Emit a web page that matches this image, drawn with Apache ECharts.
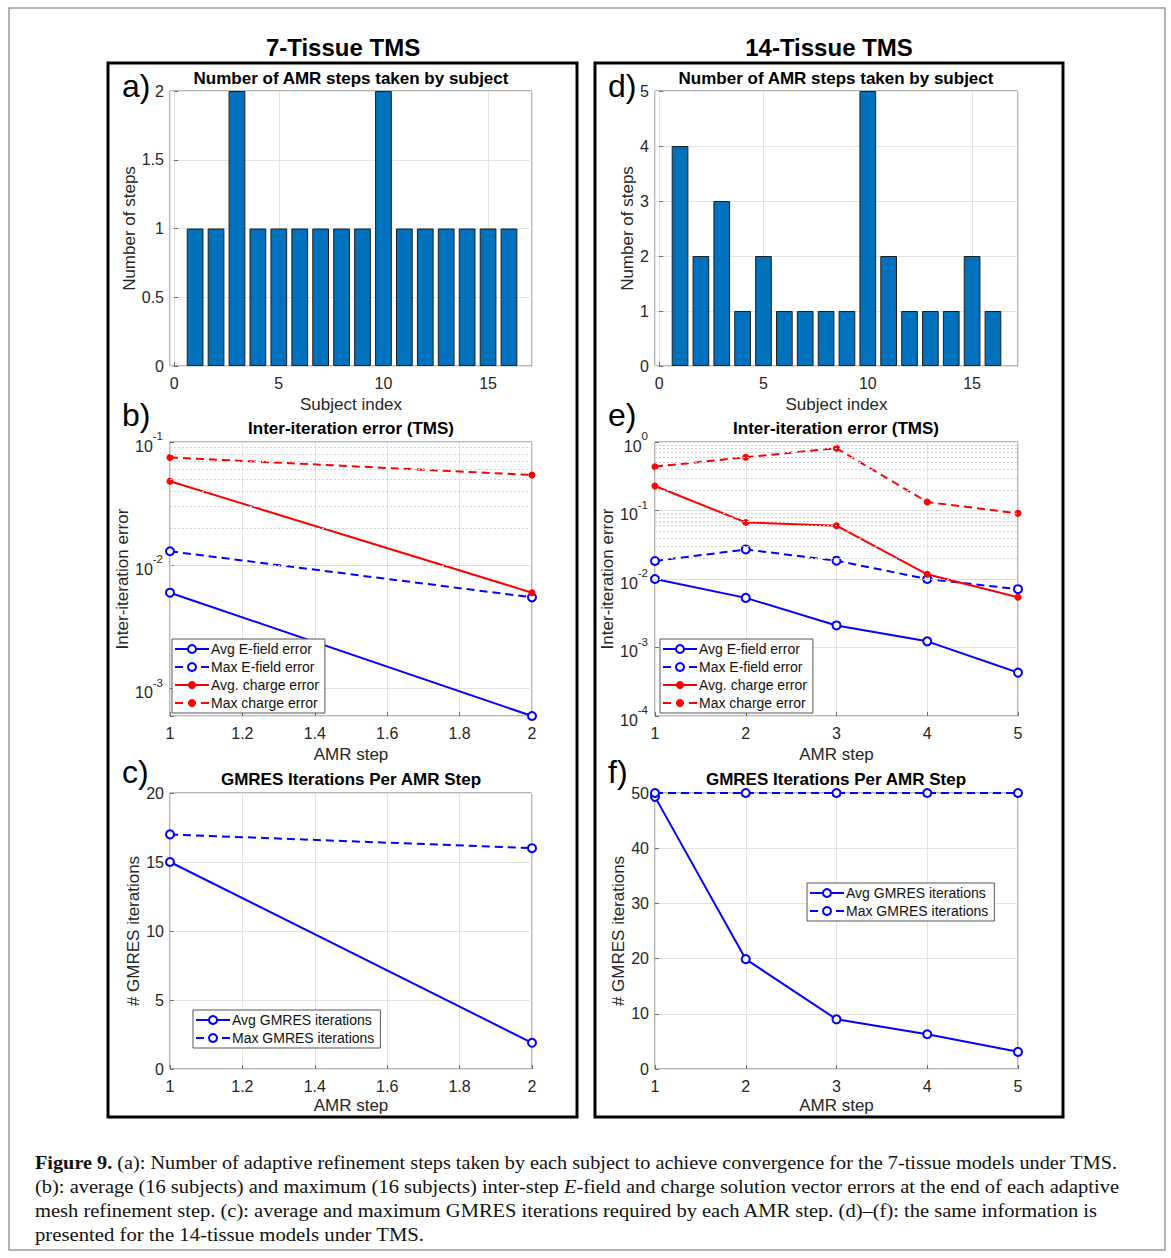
<!DOCTYPE html>
<html><head><meta charset="utf-8">
<script src="https://cdn.jsdelivr.net/npm/echarts@6/dist/echarts.min.js"></script>
<style>
html,body{margin:0;padding:0;background:#fff;}
#chart{position:absolute;left:0;top:0;width:1171px;height:1258px;}
#caption{position:absolute;left:35px;top:1151px;font-family:"Liberation Serif","DejaVu Serif",serif;font-size:19px;line-height:24px;color:#111;}
#caption .ln{white-space:nowrap;height:24px;}
#caption .ln span{display:inline-block;transform-origin:0 50%;}
</style></head><body>
<div id="chart"></div>
<div id="caption">
<div class="ln"><span><b>Figure 9.</b> (a): Number of adaptive refinement steps taken by each subject to achieve convergence for the 7-tissue models under TMS.</span></div>
<div class="ln"><span>(b): average (16 subjects) and maximum (16 subjects) inter-step <i>E</i>-field and charge solution vector errors at the end of each adaptive</span></div>
<div class="ln"><span>mesh refinement step. (c): average and maximum GMRES iterations required by each AMR step. (d)–(f): the same information is</span></div>
<div class="ln"><span>presented for the 14-tissue models under TMS.</span></div>
</div>
<script>
// ---------------- DATA ----------------
const subjects = [1,2,3,4,5,6,7,8,9,10,11,12,13,14,15,16];
const steps7  = [1,1,2,1,1,1,1,1,1,2,1,1,1,1,1,1];
const steps14 = [4,2,3,1,2,1,1,1,1,5,2,1,1,1,2,1];

const amrSteps7  = [1,2];
const amrSteps14 = [1,2,3,4,5];

const avgE7 = [6.0e-3, 6.0e-4];
const maxE7 = [1.3e-2, 5.5e-3];
const avgQ7 = [4.8e-2, 6.0e-3];
const maxQ7 = [7.5e-2, 5.4e-2];

const avgE14 = [1.0e-2, 5.3e-3, 2.1e-3, 1.23e-3, 4.3e-4];
const maxE14 = [1.83e-2, 2.7e-2, 1.85e-2, 1.0e-2, 7.1e-3];
const avgQ14 = [0.228, 6.7e-2, 6.0e-2, 1.17e-2, 5.4e-3];
const maxQ14 = [0.436, 0.60, 0.81, 0.133, 0.091];

const avgG7  = [15, 1.9];
const maxG7  = [17, 16];
const avgG14 = [49.3, 19.9, 9.0, 6.3, 3.1];
const maxG14 = [50, 50, 50, 50, 50];

const legendErr = ['Avg E-field error','Max E-field error','Avg. charge error','Max charge error'];
const legendG = ['Avg GMRES iterations','Max GMRES iterations'];

// ---------------- HELPERS ----------------
const FONT = '"Liberation Sans", Arial, Helvetica, sans-serif';
const TICK = '#262626';
const zip = (xs, ys) => xs.map((x,i)=>[x, ys[i]]);

const gridBox = (left, top, width, height) => ({left, top, width, height, show:true, borderColor:'#6e6e6e', borderWidth:1, backgroundColor:'#fff', outerBoundsMode:'none', containLabel:false});
const L = 170, LW = 362, R = 655, RW = 363;
const rows = [[91,275],[442,274],[793,276]];

function logFmt(v){
  const e = Math.log10(v), r = Math.round(e);
  if (Math.abs(e - r) > 1e-6) return '';
  return '{b|10}{s|' + r + '}';
}
const logRich = {
  b:{fontSize:16, fontFamily:FONT, color:TICK, lineHeight:24, verticalAlign:'bottom'},
  s:{fontSize:11.5, fontFamily:FONT, color:TICK, lineHeight:12, verticalAlign:'top'}
};

function xAx(gridIndex, min, max, opts){
  return Object.assign({
    type:'value', gridIndex, min, max,
    name: opts.name, nameLocation:'middle', nameGap: opts.gap || 30,
    nameTextStyle:{fontSize:17, fontFamily:FONT, color:TICK},
    axisLine:{show:false},
    axisTick:{show:true, inside:true, length:4, lineStyle:{color:'#6e6e6e'}},
    axisLabel:{fontSize:16, fontFamily:FONT, color:TICK, margin:9},
    splitLine:{show:true, lineStyle:{color:'#e4e4e4', width:1}}
  }, opts.extra || {});
}
function yAx(gridIndex, min, max, opts){
  return Object.assign({
    type:'value', gridIndex, min, max,
    name: opts.name, nameLocation:'middle', nameGap: opts.gap, nameRotate:90,
    nameTextStyle:{fontSize:17, fontFamily:FONT, color:TICK},
    axisLine:{show:false},
    axisTick:{show:true, inside:true, length:4, lineStyle:{color:'#6e6e6e'}},
    axisLabel:{fontSize:16, fontFamily:FONT, color:TICK, margin:6},
    splitLine:{show:true, lineStyle:{color:'#e4e4e4', width:1}}
  }, opts.extra || {});
}

function minorLogLines(minExp, maxExp, lo, hi){
  const out = [];
  for (let d = minExp; d < maxExp; d++){
    for (let m = 2; m <= 9; m++){
      const v = m * Math.pow(10, d);
      if (v > lo && v < hi) out.push({yAxis:v});
    }
  }
  return out;
}
function minorSeries(idx, minExp, maxExp, lo, hi){
  return {type:'line', xAxisIndex:idx, yAxisIndex:idx, data:[], silent:true, z:1,
    markLine:{silent:true, symbol:['none','none'], label:{show:false}, animation:false,
      lineStyle:{color:'#d4d4d4', type:[2,2], width:1}, data:minorLogLines(minExp,maxExp,lo,hi)}};
}

const BLUE = '#0000ff', RED = '#ff0000';
function errSeries(idx, xs, aE, mE, aQ, mQ){
  const blueSym = {symbol:'emptyCircle', symbolSize:8, itemStyle:{color:BLUE, borderWidth:2}};
  const redSym  = {symbol:'circle', symbolSize:7, itemStyle:{color:RED}};
  return [
    Object.assign({type:'line', name:legendErr[0], xAxisIndex:idx, yAxisIndex:idx, data:zip(xs,aE), z:3,
      lineStyle:{color:BLUE, width:2}}, blueSym),
    Object.assign({type:'line', name:legendErr[1], xAxisIndex:idx, yAxisIndex:idx, data:zip(xs,mE), z:3,
      lineStyle:{color:BLUE, width:2, type:[8,5]}}, blueSym),
    Object.assign({type:'line', name:legendErr[2], xAxisIndex:idx, yAxisIndex:idx, data:zip(xs,aQ), z:3,
      lineStyle:{color:RED, width:2}}, redSym),
    Object.assign({type:'line', name:legendErr[3], xAxisIndex:idx, yAxisIndex:idx, data:zip(xs,mQ), z:3,
      lineStyle:{color:RED, width:2, type:[8,5]}}, redSym)
  ];
}
function gmSeries(idx, xs, a, m){
  const sym = {symbol:'emptyCircle', symbolSize:8, itemStyle:{color:BLUE, borderWidth:2}};
  return [
    Object.assign({type:'line', name:legendG[0], xAxisIndex:idx, yAxisIndex:idx, data:zip(xs,a), z:3,
      lineStyle:{color:BLUE, width:2}}, sym),
    Object.assign({type:'line', name:legendG[1], xAxisIndex:idx, yAxisIndex:idx, data:zip(xs,m), z:3,
      lineStyle:{color:BLUE, width:2, type:[8,5]}}, sym)
  ];
}
function barSeries(idx, vals){
  return {type:'bar', xAxisIndex:idx, yAxisIndex:idx, data:zip(subjects, vals), barWidth:'80%',
    itemStyle:{color:'#0072BD', borderColor:'#1e1e1e', borderWidth:1}, z:3};
}
function legend(left, top, names){
  return {left, top, orient:'vertical', data:names, itemWidth:34, itemHeight:10, itemGap:4,
    padding:[3,6,3,2], backgroundColor:'#fff', borderColor:'#555', borderWidth:1, selectedMode:false,
    textStyle:{fontSize:14, fontFamily:FONT, color:'#111', padding:[0,0,0,-3]}, z:10};
}
function txt(x, y, s, size, weight, align){
  return {type:'text', x, y, silent:true, z:20,
    style:{text:s, fontSize:size, fontFamily:FONT, fontWeight:weight||'normal', fill:'#000',
      align:align||'center', verticalAlign:'middle'}};
}

const hideEnds = {showMinLabel:false, showMaxLabel:false};

const option = {
  animation:false,
  backgroundColor:'#fff',
  grid:[
    gridBox(L, rows[0][0], LW, rows[0][1]),
    gridBox(L, rows[1][0], LW, rows[1][1]),
    gridBox(L, rows[2][0], LW, rows[2][1]),
    gridBox(R, rows[0][0], RW, rows[0][1]),
    gridBox(R, rows[1][0], RW, rows[1][1]),
    gridBox(R, rows[2][0], RW, rows[2][1])
  ],
  xAxis:[
    xAx(0, -0.2, 17.1, {name:'Subject index', extra:{splitNumber:4}}),
    xAx(1, 1, 2, {name:'AMR step', extra:{interval:0.2}}),
    xAx(2, 1, 2, {name:'AMR step', gap:28, extra:{interval:0.2}}),
    xAx(3, -0.2, 17.2, {name:'Subject index', extra:{splitNumber:4}}),
    xAx(4, 1, 5, {name:'AMR step', extra:{interval:1}}),
    xAx(5, 1, 5, {name:'AMR step', gap:28, extra:{interval:1}})
  ],
  yAxis:[
    yAx(0, 0, 2, {name:'Number of steps', gap:32, extra:{interval:0.5}}),
    yAx(1, 6e-4, 0.1, {name:'Inter-iteration error', gap:39, extra:{type:'log', logBase:10}}),
    yAx(2, 0, 20, {name:'# GMRES iterations', gap:28, extra:{interval:5}}),
    yAx(3, 0, 5, {name:'Number of steps', gap:18, extra:{interval:1}}),
    yAx(4, 1e-4, 1, {name:'Inter-iteration error', gap:37, extra:{type:'log', logBase:10}}),
    yAx(5, 0, 50, {name:'# GMRES iterations', gap:27, extra:{interval:10}})
  ],
  legend:[
    legend(172, 639, legendErr),
    legend(660, 639, legendErr),
    legend(193, 1010, legendG),
    legend(807, 883, legendG)
  ],
  series:[
    barSeries(0, steps7),
    minorSeries(1, -4, -1, 6e-4, 0.1),
    ...errSeries(1, amrSteps7, avgE7, maxE7, avgQ7, maxQ7),
    ...gmSeries(2, amrSteps7, avgG7, maxG7),
    barSeries(3, steps14),
    minorSeries(4, -4, 0, 1e-4, 1),
    ...errSeries(4, amrSteps14, avgE14, maxE14, avgQ14, maxQ14),
    ...gmSeries(5, amrSteps14, avgG14, maxG14)
  ],
  graphic:{elements:[
    {type:'rect', shape:{x:9, y:8, width:1156, height:1242}, style:{fill:'none', stroke:'#9a9a9a', lineWidth:1.5}, silent:true, z:0},
    {type:'rect', shape:{x:108, y:63, width:469, height:1054}, style:{fill:'none', stroke:'#000', lineWidth:3}, silent:true, z:20},
    {type:'rect', shape:{x:595, y:63, width:468, height:1054}, style:{fill:'none', stroke:'#000', lineWidth:3}, silent:true, z:20},
    txt(343, 47, '7-Tissue TMS', 24, 'bold'),
    txt(829, 47, '14-Tissue TMS', 24, 'bold'),
    txt(351, 78, 'Number of AMR steps taken by subject', 17, 'bold'),
    txt(351, 428, 'Inter-iteration error (TMS)', 17, 'bold'),
    txt(351, 779, 'GMRES Iterations Per AMR Step', 17, 'bold'),
    txt(836, 78, 'Number of AMR steps taken by subject', 17, 'bold'),
    txt(836, 428, 'Inter-iteration error (TMS)', 17, 'bold'),
    txt(836, 779, 'GMRES Iterations Per AMR Step', 17, 'bold'),
    txt(122, 86, 'a)', 32, 'normal', 'left'),
    txt(122, 415, 'b)', 32, 'normal', 'left'),
    txt(122, 772, 'c)', 32, 'normal', 'left'),
    txt(608, 86, 'd)', 32, 'normal', 'left'),
    txt(608, 415, 'e)', 32, 'normal', 'left'),
    txt(608, 772, 'f)', 32, 'normal', 'left')
  ]}
};

// label tweaks
option.xAxis[0].axisLabel = Object.assign({}, option.xAxis[0].axisLabel, hideEnds);
option.xAxis[3].axisLabel = Object.assign({}, option.xAxis[3].axisLabel, hideEnds);
option.yAxis[1].axisLabel = Object.assign({}, option.yAxis[1].axisLabel, {formatter:logFmt, rich:logRich, margin:7});
option.yAxis[4].axisLabel = Object.assign({}, option.yAxis[4].axisLabel, {formatter:logFmt, rich:logRich, margin:7});

const chart = echarts.init(document.getElementById('chart'), null, {renderer:'svg', width:1171, height:1258});
chart.setOption(option);

// fit caption lines to the reference line lengths
const targets = [1082, 1084, 1062, 389];
document.querySelectorAll('#caption .ln span').forEach((el, i) => {
  const w = el.getBoundingClientRect().width;
  if (w > 0) el.style.transform = 'scaleX(' + (targets[i] / w) + ')';
});
</script>
</body></html>
